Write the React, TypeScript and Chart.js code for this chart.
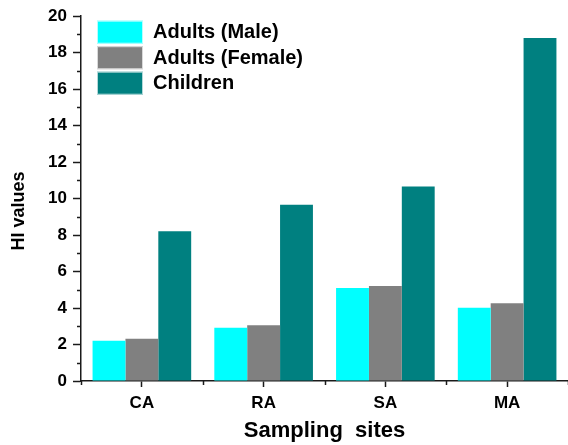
import React, { useEffect, useRef } from "react";
import { Chart, registerables } from "chart.js";

Chart.register(...registerables);

const categories = ["CA", "RA", "SA", "MA"];
const seriesNames = ["Adults (Male)", "Adults (Female)", "Children"];
const maleValues = [2.2, 2.92, 5.1, 4.02];
const femaleValues = [2.31, 3.05, 5.21, 4.26];
const childrenValues = [8.21, 9.66, 10.66, 18.8];
const seriesColors = ["#00FFFF", "#808080", "#008080"];
const yMin = 0;
const yMax = 20;
const yStep = 2;
const xTitle = "Sampling  sites";
const yTitle = "HI values";

const FONT = "'Liberation Sans', Arial, sans-serif";
const AXIS_COLOR = "#1a1a1a";

const decorPlugin = {
  id: "decor",
  afterDraw(chart: any) {
    const { ctx, chartArea, scales } = chart;
    const x = scales.x;
    const y = scales.y;
    ctx.save();
    ctx.strokeStyle = AXIS_COLOR;
    ctx.lineWidth = 1.5;
    // minor y ticks
    for (let v = yMin + 1; v < yMax; v += 2) {
      const py = Math.round(y.getPixelForValue(v)) + 0.5;
      ctx.beginPath();
      ctx.moveTo(chartArea.left - 4, py);
      ctx.lineTo(chartArea.left, py);
      ctx.stroke();
    }
    // x boundary ticks
    const n = categories.length;
    for (let i = 0; i <= n; i++) {
      const c0 = x.getPixelForValue(0);
      const c1 = x.getPixelForValue(1);
      const px = Math.round(c0 + (i - 0.5) * (c1 - c0)) + 0.5;
      ctx.beginPath();
      ctx.moveTo(px, chartArea.bottom);
      ctx.lineTo(px, chartArea.bottom + 4);
      ctx.stroke();
    }
    // y title
    ctx.fillStyle = "#000";
    ctx.font = `bold 18px ${FONT}`;
    ctx.textAlign = "center";
    ctx.textBaseline = "middle";
    ctx.translate(19, 211);
    ctx.rotate(-Math.PI / 2);
    ctx.fillText(yTitle, 0, 0);
    ctx.restore();

    // legend
    ctx.save();
    const bx = chartArea.left + 16;
    let by = chartArea.top + 4.5;
    chart.data.datasets.forEach((ds: any) => {
      ctx.fillStyle = ds.backgroundColor;
      ctx.fillRect(bx, by, 46, 23);
      ctx.strokeStyle = "rgba(255,255,255,0.7)";
      ctx.lineWidth = 1;
      ctx.strokeRect(bx + 0.5, by + 0.5, 45, 22);
      ctx.fillStyle = "#000";
      ctx.font = `bold 20px ${FONT}`;
      ctx.textAlign = "left";
      ctx.textBaseline = "middle";
      ctx.fillText(ds.label, bx + 56, by + 12);
      by += 25.5;
    });
    ctx.restore();
  },
};

export default function App() {
  const ref = useRef<HTMLCanvasElement | null>(null);
  useEffect(() => {
    document.body.style.margin = "0";
    const canvas = ref.current!;
    const valuesList = [maleValues, femaleValues, childrenValues];
    const chart = new Chart(canvas, {
      type: "bar",
      data: {
        labels: categories,
        datasets: seriesNames.map((name, i) => ({
          label: name,
          data: valuesList[i],
          backgroundColor: seriesColors[i],
          borderWidth: 0,
          categoryPercentage: 0.81,
          barPercentage: 1,
        })),
      },
      options: {
        responsive: false,
        animation: false,
        devicePixelRatio: 1,
        layout: { padding: { top: 15, right: 0, left: 0, bottom: 0 } },
        plugins: { legend: { display: false }, tooltip: { enabled: false } },
        scales: {
          x: {
            offset: true,
            grid: {
              offset: false,
              drawOnChartArea: false,
              tickLength: 6,
              tickColor: AXIS_COLOR,
              tickWidth: 1.5,
            },
            border: { display: true, color: AXIS_COLOR, width: 1.5 },
            ticks: {
              color: "#000",
              font: { family: FONT, size: 17, weight: "bold" },
              padding: 6,
            },
            title: {
              display: true,
              text: xTitle,
              color: "#000",
              font: { family: FONT, size: 22, weight: "bold" },
              padding: { top: 0, bottom: 1 },
            },
            afterFit(scale: any) {
              scale.height = 64;
            },
          },
          y: {
            min: yMin,
            max: yMax,
            grid: {
              drawOnChartArea: false,
              tickLength: 8,
              tickColor: AXIS_COLOR,
              tickWidth: 1.5,
            },
            border: { display: true, color: AXIS_COLOR, width: 1.5 },
            ticks: {
              stepSize: yStep,
              color: "#000",
              font: { family: FONT, size: 17, weight: "bold" },
              padding: 6,
            },
            afterFit(scale: any) {
              scale.width = 81;
            },
          },
        },
      },
      plugins: [decorPlugin],
    });
    return () => chart.destroy();
  }, []);
  return <canvas ref={ref} width={568} height={445} style={{ display: "block" }} />;
}
